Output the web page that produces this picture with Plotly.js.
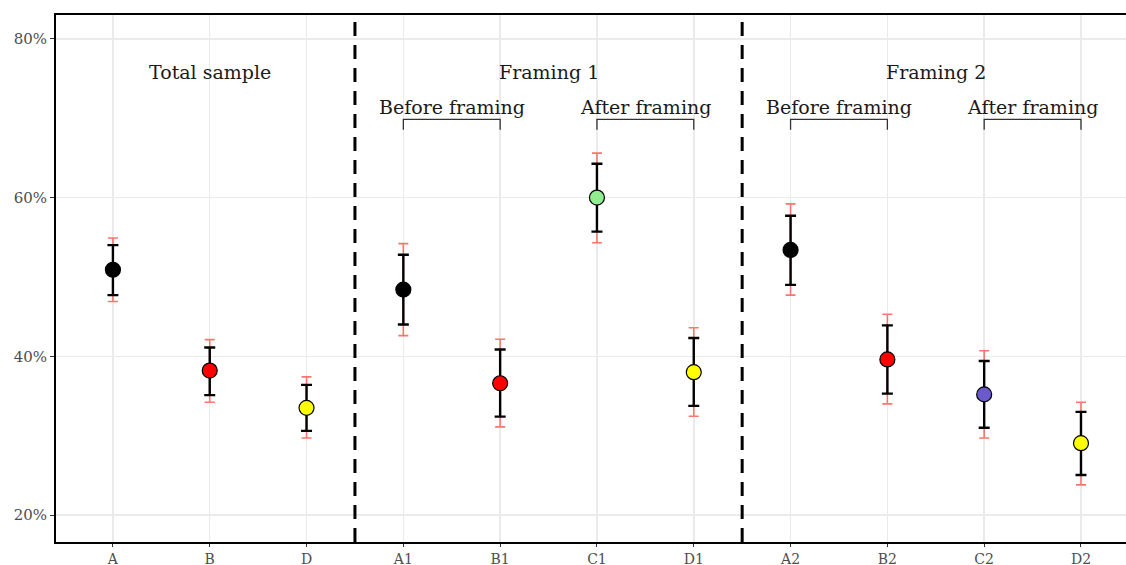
<!DOCTYPE html>
<html>
<head>
<meta charset="utf-8">
<script src="https://cdn.plot.ly/plotly-3.0.1.min.js"></script>
<style>html,body{margin:0;padding:0;background:#fff;overflow:hidden}#chart{width:1126px;height:565px}</style>
</head>
<body>
<div id="chart"></div>
<script>
const categories = ['A','B','D','A1','B1','C1','D1','A2','B2','C2','D2'];
const estimate   = [50.9, 38.2, 33.5, 48.4, 36.6, 60.0, 38.0, 53.4, 39.6, 35.2, 29.05];
const innerLow   = [47.7, 35.1, 30.6, 44.0, 32.4, 55.7, 33.75, 49.0, 35.3, 31.0, 25.05];
const innerHigh  = [54.0, 41.1, 36.4, 52.8, 40.85, 64.25, 42.3, 57.7, 43.9, 39.4, 33.0];
const outerLow   = [46.9, 34.2, 29.7, 42.6, 31.1, 54.3, 32.45, 47.7, 34.0, 29.7, 23.8];
const outerHigh  = [54.9, 42.1, 37.4, 54.2, 42.15, 65.6, 43.6, 59.2, 45.3, 40.7, 34.2];
const fillColors = ['#000000','#FF0000','#FFFF00','#000000','#FF0000','#90EE90','#FFFF00','#000000','#FF0000','#6A5ACD','#FFFF00'];
const yTicks = [20, 40, 60, 80];
const yTickLabels = ['20%','40%','60%','80%'];
const panels = [
  {text:'Total sample', from:'A',  to:'D'},
  {text:'Framing 1',    from:'A1', to:'D1'},
  {text:'Framing 2',    from:'A2', to:'D2'}
];
const brackets = [
  {text:'Before framing', from:'A1', to:'B1'},
  {text:'After framing',  from:'C1', to:'D1'},
  {text:'Before framing', from:'A2', to:'B2'},
  {text:'After framing',  from:'C2', to:'D2'}
];

const serif = 'DejaVu Serif, serif';
const idx = c => categories.indexOf(c);

const outerTrace = {
  type:'scatter', mode:'markers', x:categories, y:estimate,
  marker:{size:1, opacity:0},
  error_y:{type:'data', symmetric:false,
    array: outerHigh.map((v,i)=>v-estimate[i]),
    arrayminus: estimate.map((v,i)=>v-outerLow[i]),
    color:'#F8766D', thickness:1.6, width:5},
  hoverinfo:'skip'
};
const innerTrace = {
  type:'scatter', mode:'markers', x:categories, y:estimate,
  marker:{size:15, color:fillColors, line:{color:'#000', width:1.2}},
  error_y:{type:'data', symmetric:false,
    array: innerHigh.map((v,i)=>v-estimate[i]),
    arrayminus: estimate.map((v,i)=>v-innerLow[i]),
    color:'#000', thickness:2.4, width:5.5}
};

const shapes = [];
// separators between panels
for (let k = 0; k < panels.length - 1; k++) {
  const s = (idx(panels[k].to) + idx(panels[k+1].from)) / 2;
  shapes.push({type:'line', xref:'x', yref:'paper', x0:s, x1:s, y0:0, y1:1,
    line:{color:'#000', width:3, dash:'14px,9px'}});
}
const yBar = 69.85, yEnd = 68.55;
brackets.forEach(b=>{
  const a = idx(b.from), c = idx(b.to);
  shapes.push({type:'path', xref:'x', yref:'y',
    path:`M ${a} ${yEnd} L ${a} ${yBar} L ${c} ${yBar} L ${c} ${yEnd}`,
    line:{color:'#333', width:1.3}});
});

const annotations = [];
panels.forEach(p=>annotations.push({x:(idx(p.from)+idx(p.to))/2, y:75.85, xref:'x', yref:'y', text:p.text, showarrow:false,
  font:{family:serif, size:19, color:'#1a1a1a'}, xanchor:'center', yanchor:'middle'}));
brackets.forEach(b=>annotations.push({x:(idx(b.from)+idx(b.to))/2, y:71.45, xref:'x', yref:'y', text:b.text, showarrow:false,
  font:{family:serif, size:19, color:'#1a1a1a'}, xanchor:'center', yanchor:'middle'}));

const layout = {
  width:1126, height:565,
  margin:{l:56, r:0, t:15, b:23},
  paper_bgcolor:'#fff', plot_bgcolor:'#fff',
  showlegend:false,
  font:{family:serif},
  xaxis:{type:'category', categoryarray:categories, range:[-0.588, 10.465],
    showgrid:true, gridcolor:'#EBEBEB', gridwidth:1.5,
    showline:true, linecolor:'#000', linewidth:2, mirror:true,
    ticks:'outside', ticklen:3, tickcolor:'#333', tickwidth:1,
    tickfont:{family:serif, size:14, color:'#4D4D4D'}, zeroline:false, fixedrange:true},
  yaxis:{range:[16.6, 83.0], tickvals:yTicks, ticktext:yTickLabels,
    showgrid:true, gridcolor:'#EBEBEB', gridwidth:1.5,
    showline:true, linecolor:'#000', linewidth:2, mirror:false,
    ticks:'outside', ticklen:4, tickcolor:'#333', tickwidth:1,
    tickfont:{family:serif, size:15, color:'#4D4D4D'}, zeroline:false, fixedrange:true},
  shapes:shapes,
  annotations:annotations
};

Plotly.newPlot('chart', [outerTrace, innerTrace], layout, {displayModeBar:false, staticPlot:true});
</script>
</body>
</html>
